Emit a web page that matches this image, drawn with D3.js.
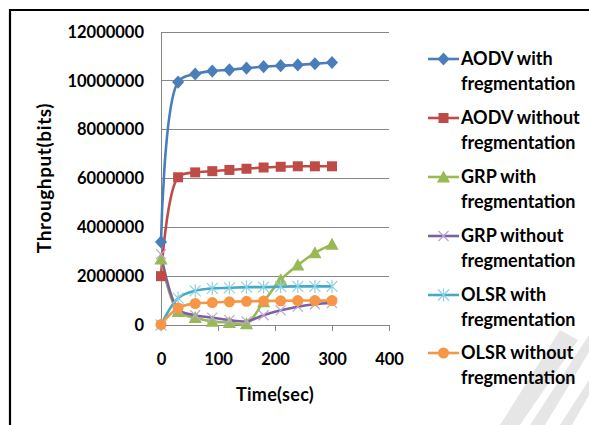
<!DOCTYPE html>
<html><head><meta charset="utf-8">
<script src="https://cdn.jsdelivr.net/npm/d3@7"></script>
<style>body{margin:0;background:#fff}svg{display:block}</style>
</head><body><svg id="c" width="589" height="425"></svg>
<script>
const times = [0,30,60,90,120,150,180,210,240,270,300];
const seriesNames = ["AODV with fregmentation","AODV without fregmentation","GRP with fregmentation","GRP without fregmentation","OLSR with fregmentation","OLSR without fregmentation"];
const aodvWith    = [3400000,9950000,10280000,10400000,10450000,10520000,10580000,10620000,10650000,10700000,10750000];
const aodvWithout = [2000000,6050000,6250000,6300000,6350000,6400000,6450000,6480000,6500000,6500000,6500000];
const grpWith     = [2700000,550000,300000,150000,100000,50000,950000,1850000,2450000,2950000,3300000];
const grpWithout  = [2900000,650000,400000,300000,200000,150000,400000,600000,750000,850000,900000];
const olsrWith    = [0,1100000,1400000,1500000,1520000,1550000,1550000,1570000,1580000,1580000,1580000];
const olsrWithout = [20000,700000,880000,920000,950000,970000,980000,990000,1000000,1000000,1000000];
const yTicks = [0,2000000,4000000,6000000,8000000,10000000,12000000];
const xTicks = [0,100,200,300,400];
const colors = ["#4a7ebb","#be4b48","#98b954","#7d60a0","#46aac5","#f79646"];
const markers = ["diamond","square","triangle","x","star","circle"];
const allSeries = [aodvWith,aodvWithout,grpWith,grpWithout,olsrWith,olsrWithout];

const svg = d3.select("#c");
const font = "Lato, 'Open Sans', sans-serif";
// frame
svg.append("path").attr("d","M10,425V10H589").attr("fill","none").attr("stroke","#000").attr("stroke-width",2.2);
// watermark stripes
const wm = svg.append("g").attr("fill","#e6e6e6");
[[500,425,560,330,578,340,520,425],[530,425,589,335,589,352,545,425],[560,425,589,380,589,395,572,425]].forEach(p=>{
  wm.append("polygon").attr("points",`${p[0]},${p[1]} ${p[2]},${p[3]} ${p[4]},${p[5]} ${p[6]},${p[7]}`);
});

const x = d3.scaleLinear().domain([0,400]).range([161,389]);
const y = d3.scaleLinear().domain([0,12000000]).range([325,32]);

// grid
svg.append("g").selectAll("line").data(yTicks.slice(1)).join("line")
  .attr("x1",x(0)).attr("x2",x(400)).attr("y1",d=>y(d)).attr("y2",d=>y(d))
  .attr("stroke","#868686").attr("stroke-width",1).attr("shape-rendering","crispEdges");
// axes
const ya = svg.append("g").attr("transform",`translate(${x(0)},0)`)
  .call(d3.axisLeft(y).tickValues(yTicks).tickFormat(d3.format("d")).tickSize(0).tickPadding(17));
const xa = svg.append("g").attr("transform",`translate(0,${y(0)})`)
  .call(d3.axisBottom(x).tickValues(xTicks).tickFormat(d3.format("d")).tickSize(6).tickPadding(22));
[ya,xa].forEach(a=>{
  a.select(".domain").attr("stroke","#868686").attr("shape-rendering","crispEdges");
  a.selectAll(".tick line").attr("stroke","#868686").attr("shape-rendering","crispEdges");
  a.selectAll("text").attr("font-family",font).attr("font-weight","bold").attr("font-size",16.5).attr("fill","#000");
});
// titles
svg.append("text").attr("transform","translate(51,178) rotate(-90)").attr("text-anchor","middle")
  .attr("font-family",font).attr("font-weight","bold").attr("font-size",19).attr("letter-spacing",0.6).text("Throughput(bits)");
svg.append("text").attr("x",275).attr("y",401).attr("text-anchor","middle")
  .attr("font-family",font).attr("font-weight","bold").attr("font-size",18).attr("letter-spacing",0.3).text("Time(sec)");

function drawMarker(g, type, cx, cy, col, s){
  if(type==="diamond") g.append("path").attr("d",`M${cx},${cy-s*0.6}L${cx+s*0.55},${cy}L${cx},${cy+s*0.6}L${cx-s*0.55},${cy}Z`).attr("fill",col);
  else if(type==="square") g.append("rect").attr("x",cx-s/2).attr("y",cy-s/2).attr("width",s).attr("height",s).attr("fill",col);
  else if(type==="triangle") g.append("path").attr("d",`M${cx},${cy-s*0.55}L${cx+s*0.55},${cy+s*0.45}L${cx-s*0.55},${cy+s*0.45}Z`).attr("fill",col);
  else if(type==="circle") g.append("circle").attr("cx",cx).attr("cy",cy).attr("r",s/2).attr("fill",col);
  else if(type==="x") g.append("path").attr("d",`M${cx-s/2},${cy-s/2}L${cx+s/2},${cy+s/2}M${cx-s/2},${cy+s/2}L${cx+s/2},${cy-s/2}`).attr("stroke","#b9a6d3").attr("stroke-width",1.2);
  else if(type==="star") g.append("path").attr("d",`M${cx-s/2},${cy-s/2}L${cx+s/2},${cy+s/2}M${cx-s/2},${cy+s/2}L${cx+s/2},${cy-s/2}M${cx},${cy-s*0.6}L${cx},${cy+s*0.6}`).attr("stroke","#8fd0e4").attr("stroke-width",1.2);
}
const line = d3.line().x((d,i)=>x(times[i])).y(d=>y(d)).curve(d3.curveCatmullRom.alpha(0.5));
const plot = svg.append("g");
allSeries.forEach((s,k)=>{
  plot.append("path").datum(s).attr("d",line).attr("fill","none").attr("stroke",colors[k]).attr("stroke-width",2.6);
});
const sizes = {diamond:11,square:10,triangle:12,x:10,star:11,circle:11};
allSeries.forEach((s,k)=>{
  const g = plot.append("g");
  s.forEach((v,i)=>drawMarker(g,markers[k],x(times[i]),y(v),colors[k],sizes[markers[k]]));
});
// legend
const legY = [59,118,177,236,295,353];
seriesNames.forEach((n,k)=>{
  const g = svg.append("g");
  g.append("line").attr("x1",428).attr("x2",459).attr("y1",legY[k]).attr("y2",legY[k]).attr("stroke",colors[k]).attr("stroke-width",2.6);
  drawMarker(g,markers[k],443.5,legY[k],colors[k],sizes[markers[k]]);
  const parts = n.split(" fregmentation");
  g.append("text").attr("x",461).attr("y",legY[k]+6).attr("font-family",font).attr("font-weight","bold").attr("font-size",18).text(parts[0]);
  g.append("text").attr("x",461).attr("y",legY[k]+31).attr("font-family",font).attr("font-weight","bold").attr("font-size",18).text("fregmentation");
});
</script></body></html>
